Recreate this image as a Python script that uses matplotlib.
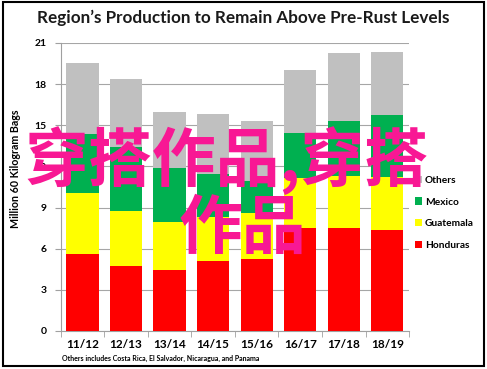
import matplotlib
matplotlib.use('Agg')
import matplotlib.pyplot as plt
from matplotlib.patches import Rectangle
import numpy as np

plt.rcParams['font.family'] = ['Lato', 'DejaVu Sans']

years = ['11/12', '12/13', '13/14', '14/15', '15/16', '16/17', '17/18', '18/19']
honduras = [5.62, 4.74, 4.45, 5.13, 5.27, 7.51, 7.51, 7.37]
guatemala = [4.42, 4.01, 3.48, 3.21, 3.36, 3.63, 3.82, 3.89]
mexico = [4.30, 4.70, 3.94, 3.11, 2.31, 3.28, 3.99, 4.49]
others = [5.18, 4.93, 4.13, 4.38, 4.40, 4.62, 4.98, 4.60]

fig = plt.figure(figsize=(4.87, 3.69), dpi=100)
ax = fig.add_axes([0.1246, 0.103, 0.7154, 0.7805])

x = np.arange(len(years))
w = 0.74
b1 = np.array(honduras)
b2 = b1 + np.array(guatemala)
b3 = b2 + np.array(mexico)
ax.bar(x, honduras, w, color='#ff0000', label='Honduras', zorder=3)
ax.bar(x, guatemala, w, bottom=b1, color='#ffff00', label='Guatemala', zorder=3)
ax.bar(x, mexico, w, bottom=b2, color='#00b050', label='Mexico', zorder=3)
ax.bar(x, others, w, bottom=b3, color='#c0c0c0', label='Others', zorder=3)

ax.set_xlim(-0.5, len(years) - 0.5)
ax.set_ylim(0, 21)
ax.set_yticks(range(0, 22, 3))
ax.set_xticks(x)
ax.set_xticklabels(years, fontsize=8.5, fontweight='bold')
ax.set_xticks(np.arange(-0.5, len(years)), minor=True)
ax.tick_params(axis='x', which='major', length=0, pad=6)
ax.tick_params(axis='x', which='minor', length=4, color='#a0a0a0')
ax.tick_params(axis='y', length=4, color='#a0a0a0', labelsize=7.5, pad=6)
for t in ax.get_yticklabels():
    t.set_fontweight('bold')
ax.grid(axis='y', color='#a6a6a6', linewidth=0.8, zorder=0)
for s in ['top', 'right']:
    ax.spines[s].set_visible(False)
for s in ['left', 'bottom']:
    ax.spines[s].set_color('#a0a0a0')
ax.set_ylabel('Million 60 Kilogram Bags', fontsize=7.7, fontweight='bold', labelpad=6)
ax.yaxis.set_label_coords(-0.115, 0.565)

h, l = ax.get_legend_handles_labels()
leg = ax.legend(h[::-1], l[::-1], loc='center left', bbox_to_anchor=(0.99, 0.41),
                frameon=False, handlelength=0.7, handleheight=0.7,
                handletextpad=0.3, labelspacing=1.25, prop={'weight': 'bold', 'size': 7.3})

fig.text(0.5, 0.951, 'Region’s Production to Remain Above Pre-Rust Levels',
         ha='center', va='center', fontsize=12.3, fontweight='bold', color='#1a1a1a')
fig.text(0.127, 0.028, 'Others includes Costa Rica, El Salvador, Nicaragua, and Panama',
         ha='left', va='center', fontsize=5, fontweight='bold')

fig.patches.append(Rectangle((0.006, 0.008), 0.988, 0.986, transform=fig.transFigure,
                             fill=False, edgecolor='black', linewidth=1.5))

wm = ['Noto Sans CJK SC', 'DejaVu Sans']
fig.text(0.464, 0.565, '穿搭作品,穿搭', ha='center', va='center', fontsize=46,
         fontweight='bold', color='#f81894', family=wm, zorder=10)
fig.text(0.497, 0.38, '作品', ha='center', va='center', fontsize=46,
         fontweight='bold', color='#f81894', family=wm, zorder=10)

fig.savefig('out.png', dpi=100)
